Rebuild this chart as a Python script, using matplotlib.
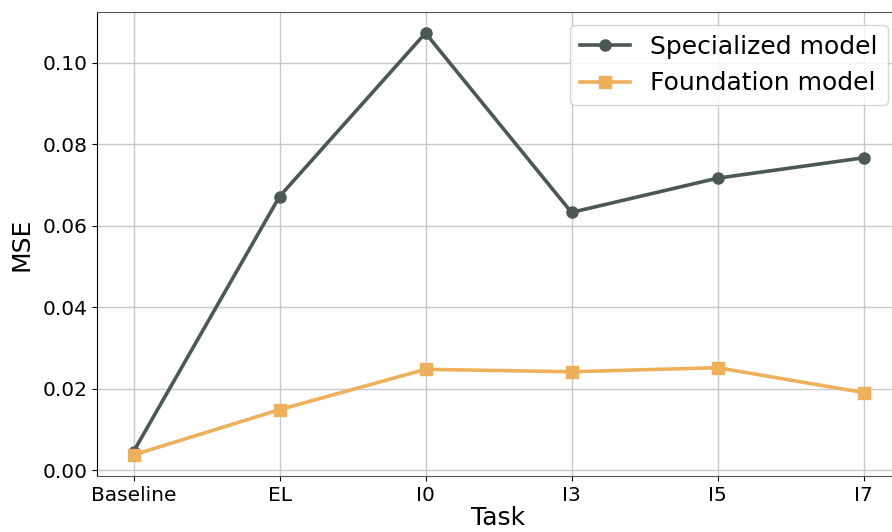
import matplotlib
matplotlib.use("Agg")
import matplotlib.pyplot as plt

tasks = ["Baseline", "EL", "I0", "I3", "I5", "I7"]
specialized = [0.0046, 0.0672, 0.1073, 0.0633, 0.0717, 0.0767]
foundation = [0.0038, 0.0149, 0.0248, 0.0242, 0.0252, 0.0191]

fig = plt.figure(figsize=(8.92, 5.32), dpi=100)
ax = fig.add_axes([97/892, 1 - 476/532, (900 - 97)/892, (476 - 12)/532])

x = list(range(len(tasks)))
ax.plot(x, specialized, color="#4b5856", marker="o", markersize=8, linewidth=2.6,
        label="Specialized model", zorder=3)
ax.plot(x, foundation, color="#eeb05a", marker="s", markersize=8, linewidth=2.6,
        label="Foundation model", zorder=3)

ax.set_xticks(x)
ax.set_xticklabels(tasks)
ax.set_yticks([0.0, 0.02, 0.04, 0.06, 0.08, 0.10])
ax.set_yticklabels(["0.00", "0.02", "0.04", "0.06", "0.08", "0.10"])
ax.tick_params(labelsize=14.5)
ax.grid(True, color="#c8c8c8", linewidth=1.0)
ax.set_axisbelow(True)
ax.set_xlabel("Task", fontsize=18, labelpad=1)
ax.set_ylabel("MSE", fontsize=18, labelpad=6)
for s in ["top", "bottom"]:
    ax.spines[s].set_color("#555555")
ax.legend(fontsize=18, loc="upper right", bbox_to_anchor=(0.985, 0.972),
          borderaxespad=0)

fig.savefig("out.png", dpi=100)
